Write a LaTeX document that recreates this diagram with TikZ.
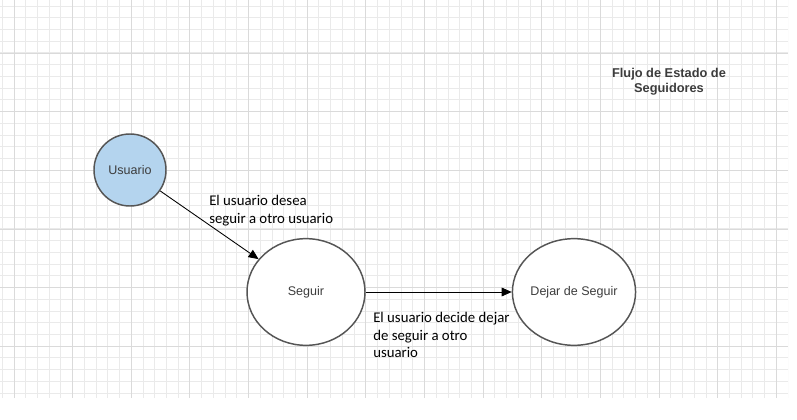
\documentclass[tikz,border=0pt]{standalone}
\usepackage{fontspec}
\setmainfont{Liberation Sans}
\newfontfamily\calibri{Carlito}
\usetikzlibrary{shapes.geometric, arrows.meta, positioning}
\definecolor{rejilla}{RGB}{234,234,234}
\definecolor{rejillados}{RGB}{218,218,218}
\definecolor{azulclaro}{RGB}{180,212,238}
\definecolor{borde}{RGB}{85,85,85}
\definecolor{textogris}{RGB}{60,60,60}

\begin{document}
\begin{tikzpicture}[x=0.75pt, y=-0.75pt,
    estado/.style={ellipse, draw=borde, line width=1.1pt, fill=white, inner sep=0pt,
        font=\fontsize{9.4}{11}\selectfont, text=textogris},
    etiqueta/.style={anchor=north west, align=left, inner sep=0pt,
        font=\calibri\fontsize{11.1}{13.1}\selectfont},
    flecha/.style={-{Triangle[length=7.5pt,width=6.5pt]}, line width=0.65pt}]
\useasboundingbox[fill=white] (0,0) rectangle (797,420);
% rejilla de fondo
\begin{scope}
\clip (0,0) rectangle (788,398);
\foreach \i in {-1,...,66}
    \draw[rejilla, line width=0.75pt] ({14+\i*11.73},0) -- ({14+\i*11.73},398);
\foreach \j in {-5,...,30}
    \draw[rejilla, line width=0.75pt] (0,{53+\j*11.73}) -- (788,{53+\j*11.73});
\foreach \i in {0,...,13}
    \draw[rejillados, line width=0.75pt] ({14+\i*58.65},0) -- ({14+\i*58.65},398);
\foreach \j in {-1,...,6}
    \draw[rejillados, line width=0.75pt] (0,{53.3+\j*58.65}) -- (788,{53.3+\j*58.65});
\end{scope}

\node[estado, circle, fill=azulclaro, minimum size=54pt] (usuario) at (130,170) {Usuario};
\node[estado, minimum width=88.5pt, minimum height=80pt] (seguir) at (306,292) {Seguir};
\node[estado, minimum width=86pt, minimum height=80pt] (dejar) at (574,292) {Dejar de Seguir};

\draw[flecha] (usuario) -- (seguir);
\draw[flecha] (seguir) -- (dejar);

\node[etiqueta] (desea) at (209,195) {El usuario desea\\seguir a otro usuario};
\node[etiqueta] (decide) at (373,312) {El usuario decide dejar\\de seguir a otro\\usuario};

\node[align=center, font=\bfseries\fontsize{9.6}{11.2}\selectfont, text=textogris] (titulo) at (669,81.5)
    {Flujo de Estado de\\Seguidores};
\end{tikzpicture}
\end{document}
